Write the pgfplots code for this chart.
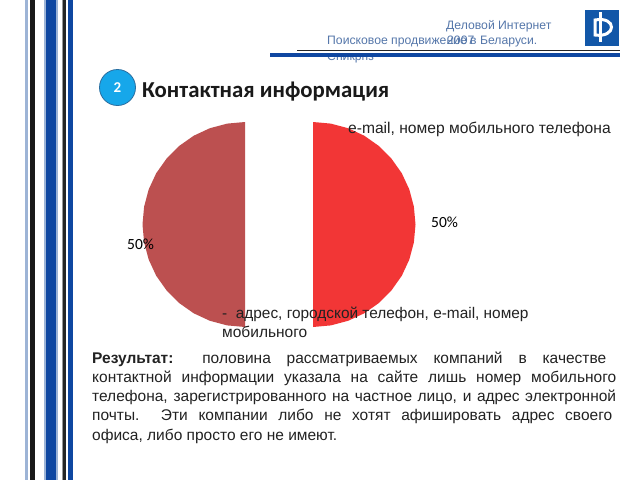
\documentclass[border=0pt]{standalone}
\usepackage{pgfplots}
\pgfplotsset{compat=1.18}
\usepackage{fontspec}
\setmainfont{Liberation Sans}
\newfontfamily\carl{Carlito}
\definecolor{hdr}{HTML}{5577AA}
\definecolor{stripe}{HTML}{0F47A1}
\definecolor{pale}{HTML}{9DB4D6}
\definecolor{pieL}{HTML}{BC5050}
\definecolor{pieR}{HTML}{F23636}
\definecolor{txt}{HTML}{222222}
\definecolor{logo}{HTML}{1257A8}
\definecolor{badge}{HTML}{16A7EA}
\definecolor{badgeline}{HTML}{2A6EA0}
\newcommand{\T}[3]{\node[anchor=base west,inner sep=0pt,text=txt] at (axis cs:#1,#2) {#3};}
\newcommand{\J}[3]{\node[anchor=base west,inner sep=0pt,text=txt] at (axis cs:92,#1) {\fontsize{15.5}{17}\selectfont\makebox[#2pt][s]{#3}};}
\begin{document}
\begin{tikzpicture}
\begin{axis}[
  scale only axis, width=640pt, height=480pt,
  xmin=0, xmax=640, ymin=0, ymax=480, y dir=reverse,
  axis lines=none, clip=false, ticks=none]
\fill[white] (axis cs:0,0) rectangle (axis cs:640,480);
% stripes
\fill[pale] (axis cs:25,0) rectangle (axis cs:28,480);
\fill[black!90] (axis cs:30,0) rectangle (axis cs:35,480);
\fill[pale] (axis cs:43.5,0) rectangle (axis cs:57.5,480);
\fill[stripe] (axis cs:46,0) rectangle (axis cs:56,480);
\fill[black!40] (axis cs:61.5,0) rectangle (axis cs:66,480);
\fill[black!85] (axis cs:63,0) rectangle (axis cs:65.5,480);
\fill[stripe] (axis cs:68,0) rectangle (axis cs:73,480);
% pie (50 / 50, exploded)
\addplot[fill=pieL,draw=none] coordinates {(245,122)(227.2,123.6)(209.9,128.2)(193.75,135.7)(179.1,146)(166.5,158.7)(156.2,173.25)(148.7,189.4)(144.1,206.7)(142.5,224.5)(144.1,242.3)(148.7,259.6)(156.2,275.75)(166.5,290.3)(179.1,303)(193.75,313.3)(209.9,320.8)(227.2,325.4)(245,327)} -- cycle;
\addplot[fill=pieR,draw=none] coordinates {(313,122)(330.8,123.6)(348.1,128.2)(364.25,135.7)(378.9,146)(391.5,158.7)(401.8,173.25)(409.3,189.4)(413.9,206.7)(415.5,224.5)(413.9,242.3)(409.3,259.6)(401.8,275.75)(391.5,290.3)(378.9,303)(364.25,313.3)(348.1,320.8)(330.8,325.4)(313,327)} -- cycle;
% header
\node[anchor=base west,inner sep=0pt,text=hdr] at (axis cs:327,60) {\fontsize{12.2}{14}\selectfont Сникрпз};
\fill[white] (axis cs:320,46) rectangle (axis cs:380,53);
\node[anchor=base west,inner sep=0pt,text=hdr] at (axis cs:446,29) {\fontsize{12.2}{14}\selectfont Деловой Интернет};
\node[anchor=base west,inner sep=0pt,text=hdr] at (axis cs:327,44) {\fontsize{12.2}{14}\selectfont Поисковое продвижение в Беларуси.};
\node[anchor=base west,inner sep=0pt,text=hdr] at (axis cs:447,44) {\fontsize{12.2}{14}\selectfont 2007};
\fill[black!85] (axis cs:297,50) rectangle (axis cs:620,51.2);
\fill[stripe] (axis cs:270,53) rectangle (axis cs:620,56.5);
% logo
\fill[logo] (axis cs:585,10) rectangle (axis cs:619,46);
\draw[white,line width=3pt] (axis cs:600,12) -- (axis cs:600,42);
\draw[white,line width=3pt] (axis cs:595,20) .. controls (axis cs:617,16) and (axis cs:617,38) .. (axis cs:595,35) -- cycle;
% number
\node[circle,minimum size=36pt,inner sep=0pt,fill=badge,draw=badgeline,line width=0.8pt,text=white] at (axis cs:117.5,87.5) {\carl\bfseries\fontsize{15}{17}\selectfont 2};
% title
\node[anchor=base west,inner sep=0pt,text=black!90] at (axis cs:142,97) {\carl\bfseries\fontsize{22.8}{24}\selectfont Контактная информация};
% labels
\T{348}{133}{\fontsize{15.6}{17}\selectfont e-mail, номер мобильного телефона}
\T{222}{318}{\fontsize{15.4}{17}\selectfont -\ \ адрес, городской телефон, e-mail, номер}
\T{222}{337}{\fontsize{15.5}{17}\selectfont мобильного}
\T{127}{249}{\carl\fontsize{15.5}{17}\selectfont\color{black} 50\%}
\T{431}{227}{\carl\fontsize{15.5}{17}\selectfont\color{black} 50\%}
% result
\J{363}{514}{\textbf{Результат:} половина рассматриваемых компаний в качестве}
\J{382}{524}{контактной информации указала на сайте лишь номер мобильного}
\J{401}{524}{телефона, зарегистрированного на частное лицо, и адрес электронной}
\J{420}{520}{почты.\ \ Эти компании либо не хотят афишировать адрес своего}
\T{92}{440}{\fontsize{15.5}{17}\selectfont офиса, либо просто его не имеют.}
\end{axis}
\end{tikzpicture}
\end{document}
